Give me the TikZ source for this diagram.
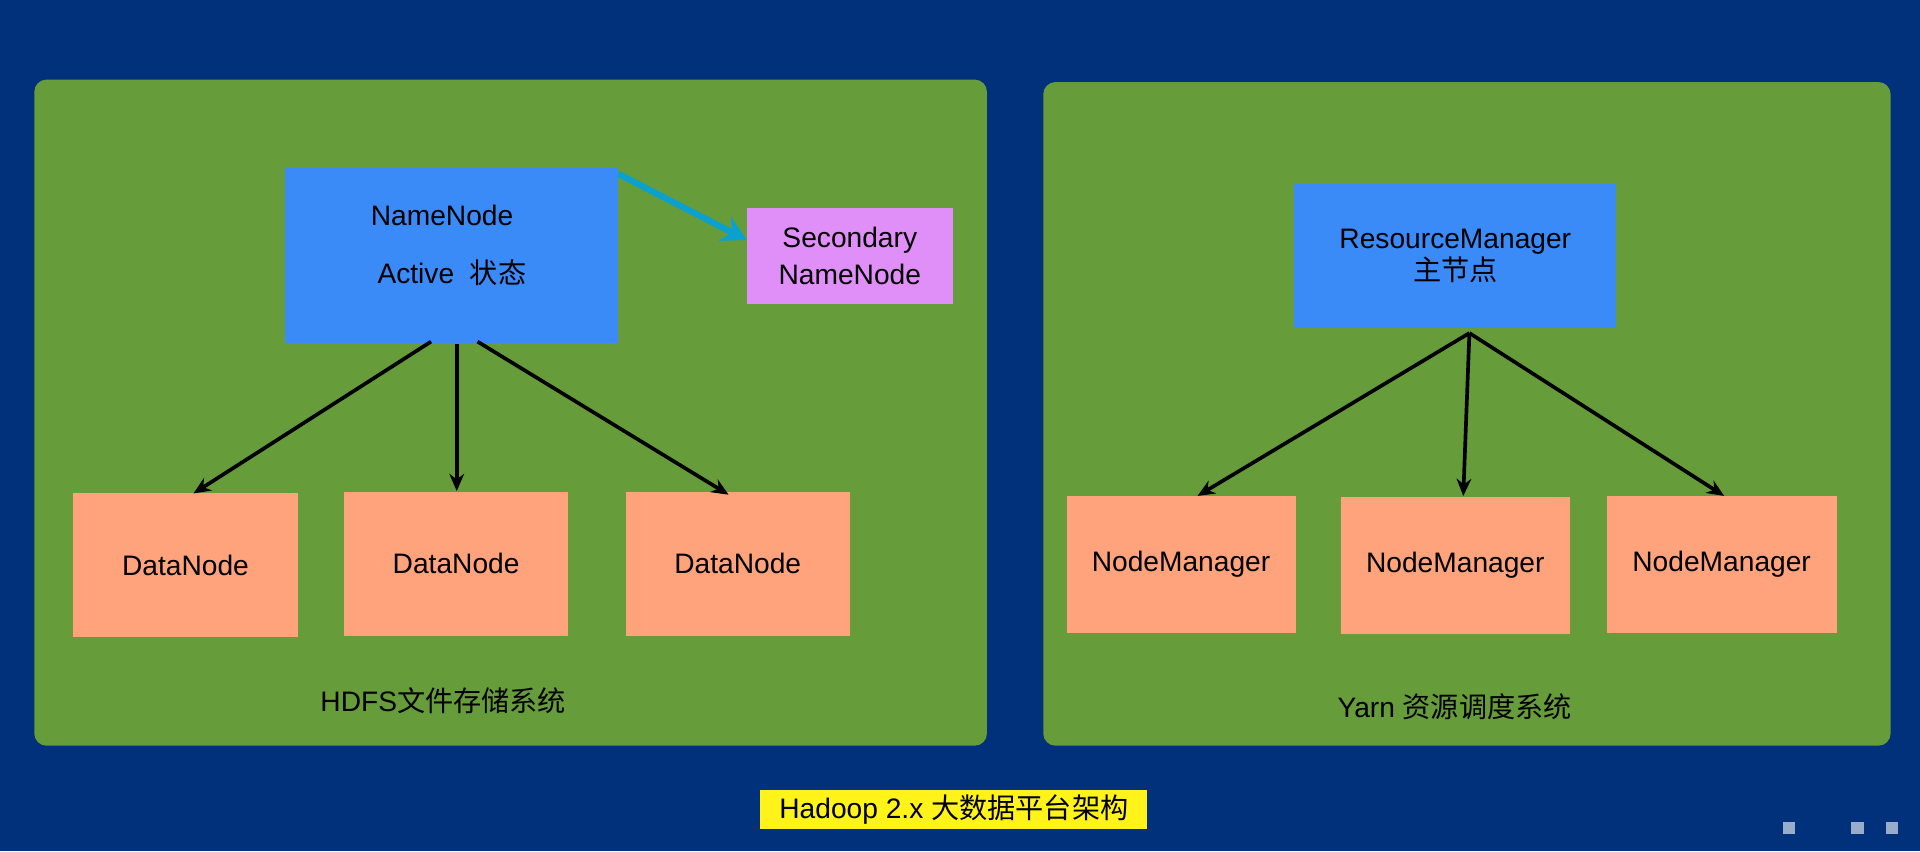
\documentclass[tikz,border=0pt]{standalone}
\usepackage{fontspec}
\setmainfont{Liberation Sans}
\newfontfamily\cjk{Noto Sans CJK SC}
\usetikzlibrary{arrows.meta}
\definecolor{navy}{HTML}{00317A}
\definecolor{pgreen}{HTML}{669C3A}
\definecolor{bblue}{HTML}{3A8AF8}
\definecolor{pink}{HTML}{E08FF8}
\definecolor{salmon}{HTML}{FFA37C}
\definecolor{cyanar}{HTML}{0AA0D0}
\begin{document}
\begin{tikzpicture}[x=1pt,y=-1pt,
  txt/.style={font=\fontsize{23}{28}\selectfont, text=black},
  panel/.style={fill=pgreen, rounded corners=10pt},
  box/.style={inner sep=0pt, txt, align=center},
  arr/.style={line width=3pt, -{Stealth[length=14pt,width=12pt]}}]
\fill[navy] (0,0) rectangle (1568,695);
\useasboundingbox (0,0) rectangle (1568,695);
\fill[panel] (28,65) rectangle (806,609);
\fill[panel] (852,67) rectangle (1544,609);
% left
\node[box, fill=bblue, minimum width=272pt, minimum height=143pt] (nn) at (369,208.5) {};
\node[txt] (nnt) at (361,176) {NameNode};
\node[txt] (nna) at (369,223) {Active\ \ {\cjk 状态}};
\node[box, fill=pink, minimum width=168pt, minimum height=78pt] (sn) at (694,209) {Secondary\\[2pt]NameNode};
\node[box, fill=salmon, minimum width=183pt, minimum height=117pt] (d1) at (151.5,461.5) {DataNode};
\node[box, fill=salmon, minimum width=183pt, minimum height=117pt] (d2) at (372.5,460.5) {DataNode};
\node[box, fill=salmon, minimum width=183pt, minimum height=117pt] (d3) at (602.5,460.5) {DataNode};
\coordinate (c1) at (505,142);
\draw[arr, cyanar, line width=5pt, -{Stealth[length=20pt,width=22pt]}] (c1) -- (sn.west |- 0,196);
\draw[arr] (352,279) -- (158,403);
\draw[arr] (373,281) -- (373,401);
\draw[arr] (390,279) -- (595,404);
\node[txt] (hl) at (362,572) {HDFS{\cjk 文件存储系统}};
% right
\node[box, fill=bblue, minimum width=263pt, minimum height=118pt] (rm) at (1188.5,209) {ResourceManager\\[-2pt]{\cjk 主节点}};
\node[box, fill=salmon, minimum width=187pt, minimum height=112pt] (m1) at (964.5,461) {NodeManager};
\node[box, fill=salmon, minimum width=187pt, minimum height=112pt] (m2) at (1188.5,462) {NodeManager};
\node[box, fill=salmon, minimum width=188pt, minimum height=112pt] (m3) at (1406,461) {NodeManager};
\coordinate (r0) at (1200,272);
\draw[arr] (r0) -- (978,405);
\draw[arr] (r0) -- (1195,405);
\draw[arr] (r0) -- (1408,405);
\node[txt] (yl) at (1188,577) {Yarn {\cjk 资源调度系统}};
% title
\node[box, fill=yellow!90!white, minimum width=316pt, minimum height=32pt] (title) at (779,661) {Hadoop 2.x {\cjk 大数据平台架构}};
\foreach \xx in {1461,1517,1545} \fill[white!60!navy] (\xx-5,671) rectangle (\xx+5,681);
\end{tikzpicture}
\end{document}
